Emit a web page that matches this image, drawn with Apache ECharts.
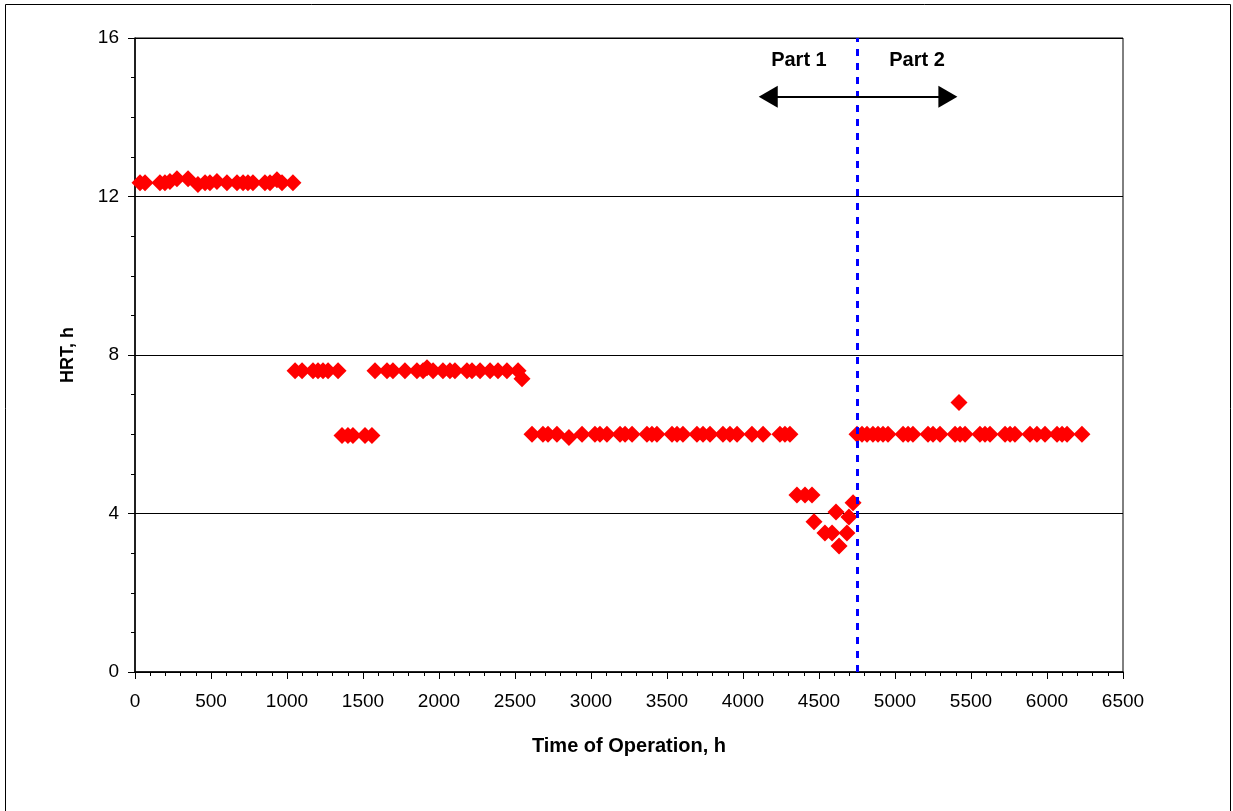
<!DOCTYPE html>
<html>
<head>
<meta charset="utf-8">
<script src="https://cdn.jsdelivr.net/npm/echarts@6/dist/echarts.min.js"></script>
<style>
html,body{margin:0;padding:0;background:#fff;}
#chart{width:1233px;height:811px;}
</style>
</head>
<body>
<div id="chart"></div>
<script>
// ---- data (time of operation in h, HRT in h) ----
var xTickLabels = ['0','500','1000','1500','2000','2500','3000','3500','4000','4500','5000','5500','6000','6500'];
var yTickLabels = ['0','4','8','12','16'];

var hrtPeriod1 = [[33,12.35],[66,12.35],[164,12.35],[197,12.35],[230,12.38],[276,12.45],[349,12.45],[414,12.3],[461,12.35],[493,12.35],[539,12.38],[605,12.35],[671,12.35],[711,12.35],[743,12.35],[776,12.35],[855,12.35],[888,12.35],[934,12.42],[967,12.35],[1039,12.35]];

var hrtPeriod2 = [[1053,7.6],[1099,7.6],[1171,7.6],[1204,7.6],[1237,7.6],[1270,7.6],[1336,7.6],[1579,7.6],[1658,7.6],[1697,7.6],[1776,7.6],[1855,7.6],[1895,7.6],[1921,7.68],[1961,7.6],[2026,7.6],[2072,7.6],[2105,7.6],[2184,7.6],[2217,7.6],[2270,7.6],[2336,7.6],[2388,7.6],[2447,7.6],[2520,7.6],[2546,7.4]];

var hrtPeriod2b = [[1362,5.97],[1401,5.97],[1434,5.97],[1513,5.97],[1559,5.97]];

var hrtPeriod3 = [[2612,6],[2684,6],[2717,6],[2776,6],[2855,5.92],[2941,6],[3026,6],[3059,6],[3105,6],[3191,6],[3224,6],[3270,6],[3368,6],[3401,6],[3434,6],[3533,6],[3566,6],[3605,6],[3697,6],[3737,6],[3783,6],[3868,6],[3914,6],[3961,6],[4059,6],[4132,6],[4243,6],[4276,6],[4309,6]];

var hrtPart1End = [[4355,4.47],[4408,4.47],[4454,4.47],[4467,3.79],[4539,3.51],[4586,3.51],[4612,4.04],[4632,3.18],[4684,3.51],[4697,3.91],[4724,4.27]];

var hrtPart2 = [[4750,6],[4783,6],[4816,6],[4855,6],[4888,6],[4921,6],[4954,6],[5053,6],[5086,6],[5118,6],[5217,6],[5250,6],[5296,6],[5395,6],[5421,6.8],[5428,6],[5461,6],[5559,6],[5592,6],[5625,6],[5724,6],[5757,6],[5789,6],[5888,6],[5934,6],[5987,6],[6066,6],[6099,6],[6132,6],[6230,6]];

var partDivider = 4750;               // h, boundary between Part 1 and Part 2
var arrowSpan = [[4166,14.52],[5348,14.52]];
var partLabels = [['Part 1',4368,15.42],['Part 2',5145,15.42]];

// ---- chart ----
var allPoints = [].concat(hrtPeriod1, hrtPeriod2, hrtPeriod2b, hrtPeriod3, hrtPart1End, hrtPart2);
var FONT = 'Liberation Sans, Arial, sans-serif';

var chart = echarts.init(document.getElementById('chart'), null, {renderer:'canvas'});
chart.setOption({
  animation:false,
  backgroundColor:'#fff',
  grid:{left:135,right:110,top:38,bottom:139,show:true,borderColor:'#000',borderWidth:1,backgroundColor:'transparent'},
  xAxis:{
    type:'value',min:0,max:6500,interval:500,
    name:'Time of Operation, h',nameLocation:'middle',nameGap:64,
    nameTextStyle:{fontFamily:FONT,fontWeight:'bold',fontSize:20,color:'#000'},
    axisLine:{onZero:false,lineStyle:{color:'#000',width:1.5}},
    axisTick:{show:true,inside:false,length:7,lineStyle:{color:'#000',width:1}},
    minorTick:{show:true,splitNumber:5,length:4,lineStyle:{color:'#000',width:1}},
    splitLine:{show:false},
    axisLabel:{fontFamily:FONT,fontSize:19,color:'#000',margin:20,
      formatter:function(v){return xTickLabels[Math.round(v/500)];}}
  },
  yAxis:{
    type:'value',min:0,max:16,interval:4,
    name:'HRT, h',nameLocation:'middle',nameGap:58,nameRotate:90,
    nameTextStyle:{fontFamily:FONT,fontWeight:'bold',fontSize:18,color:'#000'},
    axisLine:{onZero:false,lineStyle:{color:'#000',width:1.5}},
    axisTick:{show:true,inside:false,length:7,lineStyle:{color:'#000',width:1}},
    minorTick:{show:true,splitNumber:4,length:4,lineStyle:{color:'#000',width:1}},
    splitLine:{show:true,lineStyle:{color:'#000',width:1}},
    axisLabel:{fontFamily:FONT,fontSize:19,color:'#000',margin:16,
      formatter:function(v){return yTickLabels[Math.round(v/4)];}}
  },
  series:[
    {
      type:'scatter',
      symbol:'diamond',symbolSize:17,
      itemStyle:{color:'#ff0000',opacity:1},
      data:allPoints,
      z:3,
      markLine:{
        silent:true,symbol:['none','none'],
        label:{show:false},
        lineStyle:{color:'#0000ff',type:[7,7],width:3},
        data:[{xAxis:partDivider}],
        z:4
      }
    },
    {
      type:'scatter',symbolSize:0,data:[],
      markLine:{
        silent:true,symbol:['triangle','triangle'],symbolSize:[22,19],
        label:{show:false},
        lineStyle:{color:'#000',type:'solid',width:2},
        itemStyle:{color:'#000'},
        data:[[{coord:arrowSpan[0]},{coord:arrowSpan[1]}]]
      }
    }
  ],
  graphic:[
    {type:'rect',silent:true,shape:{x:5.5,y:4.5,width:1225,height:830},
     style:{fill:null,stroke:'#000',lineWidth:1}}
  ]
});

// annotation texts placed at data coordinates
var texts = partLabels.map(function(p){
  var pt = chart.convertToPixel({gridIndex:0},[p[1],p[2]]);
  return {type:'text',silent:true,x:pt[0],y:pt[1],z:10,
    style:{text:p[0],fill:'#000',font:'bold 20px '+FONT,align:'center',verticalAlign:'middle'}};
});
chart.setOption({graphic:[
  {type:'rect',silent:true,shape:{x:5.5,y:4.5,width:1225,height:830},
   style:{fill:null,stroke:'#000',lineWidth:1}}
].concat(texts)});
</script>
</body>
</html>
